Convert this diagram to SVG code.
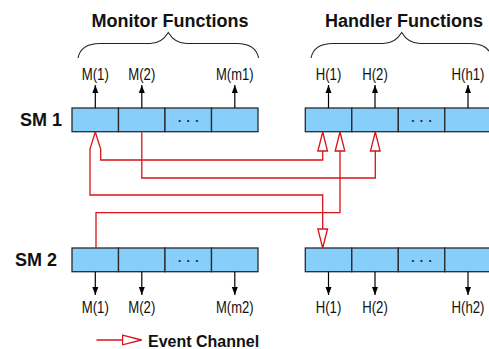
<svg xmlns="http://www.w3.org/2000/svg" width="489" height="349" viewBox="0 0 489 349">
<style>
.cell{fill:#87cefa;stroke:#2a2a2a;stroke-width:1.3}
.title{font-family:"Liberation Sans",Arial,sans-serif;font-weight:bold;font-size:18px;fill:#111}
.fn{font-family:"Liberation Sans Narrow","Liberation Sans",Arial,sans-serif;font-size:16px;fill:#111;text-anchor:middle}
.dots{font-family:"Liberation Sans",Arial,sans-serif;font-weight:bold;font-size:12px;word-spacing:2px;fill:#222;text-anchor:middle}
.brace{fill:none;stroke:#222;stroke-width:1.1}
.call{stroke:#000;stroke-width:1.2;fill:none;marker-end:url(#blk)}
.eva{stroke:#d81418;stroke-width:1.3;fill:none;marker-end:url(#open)}
</style>
<defs>
<marker id="blk" markerUnits="userSpaceOnUse" markerWidth="10" markerHeight="8" refX="8" refY="3.5" orient="auto" viewBox="0 0 10 8">
<path d="M0,0.5 L8,3.5 L0,6.5 Z" fill="#000"/>
</marker>
<marker id="open" markerUnits="userSpaceOnUse" markerWidth="22" markerHeight="12" refX="20" refY="6" orient="auto" viewBox="0 0 22 12">
<path d="M1,1.2 L20,6 L1,10.8 Z" fill="#fff" stroke="#d81418" stroke-width="1.3"/>
</marker>
</defs>
<rect width="489" height="349" fill="#fff"/>

<g id="headings">
<text class="title" x="170" y="27" text-anchor="middle">Monitor Functions</text>
<text class="title" x="404" y="27" text-anchor="middle">Handler Functions</text>
<path class="brace" d="M78,58 C80,48 88,43.5 100,43.5 L150,43.5 C160,43.5 165,38 168.3,32.5 C171.6,38 176.6,43.5 186.6,43.5 L236.6,43.5 C248.6,43.5 256.6,48 258.6,58"/>
<path class="brace" d="M311,58 C313,48 321,43.5 333,43.5 L383,43.5 C393,43.5 398.4,38 401.7,32.5 C405,38 410,43.5 420,43.5 L470,43.5 C482,43.5 490,48 492,58"/>
<text class="title" x="20" y="126">SM 1</text>
<text class="title" x="15" y="266">SM 2</text>
</g>

<g id="sm1-monitor">
<rect class="cell" x="72" y="108" width="46.5" height="23.7"/>
<rect class="cell" x="118.5" y="108" width="46.5" height="23.7"/>
<rect class="cell" x="165" y="108" width="46.5" height="23.7"/>
<rect class="cell" x="211.5" y="108" width="46.5" height="23.7"/>
<text class="dots" x="188.25" y="121.5">. . .</text>
</g>
<g id="sm1-handler">
<rect class="cell" x="305.3" y="108" width="46.5" height="23.7"/>
<rect class="cell" x="351.8" y="108" width="46.5" height="23.7"/>
<rect class="cell" x="398.3" y="108" width="46.5" height="23.7"/>
<rect class="cell" x="444.8" y="108" width="46.5" height="23.7"/>
<text class="dots" x="421.5" y="121.5">. . .</text>
</g>
<g id="sm2-monitor">
<rect class="cell" x="72" y="248" width="46.5" height="23.7"/>
<rect class="cell" x="118.5" y="248" width="46.5" height="23.7"/>
<rect class="cell" x="165" y="248" width="46.5" height="23.7"/>
<rect class="cell" x="211.5" y="248" width="46.5" height="23.7"/>
<text class="dots" x="188.25" y="261.5">. . .</text>
</g>
<g id="sm2-handler">
<rect class="cell" x="305.3" y="248" width="46.5" height="23.7"/>
<rect class="cell" x="351.8" y="248" width="46.5" height="23.7"/>
<rect class="cell" x="398.3" y="248" width="46.5" height="23.7"/>
<rect class="cell" x="444.8" y="248" width="46.5" height="23.7"/>
<text class="dots" x="421.5" y="261.5">. . .</text>
</g>

<g id="function-labels">
<text class="fn" x="95.3" y="80" textLength="27" lengthAdjust="spacingAndGlyphs">M(1)</text>
<text class="fn" x="141.8" y="80" textLength="27" lengthAdjust="spacingAndGlyphs">M(2)</text>
<text class="fn" x="234.8" y="80" textLength="37.5" lengthAdjust="spacingAndGlyphs">M(m1)</text>
<text class="fn" x="328.5" y="80" textLength="25.5" lengthAdjust="spacingAndGlyphs">H(1)</text>
<text class="fn" x="375" y="80" textLength="25.5" lengthAdjust="spacingAndGlyphs">H(2)</text>
<text class="fn" x="468" y="80" textLength="33" lengthAdjust="spacingAndGlyphs">H(h1)</text>
<text class="fn" x="95.3" y="312.5" textLength="27" lengthAdjust="spacingAndGlyphs">M(1)</text>
<text class="fn" x="141.8" y="312.5" textLength="27" lengthAdjust="spacingAndGlyphs">M(2)</text>
<text class="fn" x="234.8" y="312.5" textLength="37.5" lengthAdjust="spacingAndGlyphs">M(m2)</text>
<text class="fn" x="328.5" y="312.5" textLength="25.5" lengthAdjust="spacingAndGlyphs">H(1)</text>
<text class="fn" x="375" y="312.5" textLength="25.5" lengthAdjust="spacingAndGlyphs">H(2)</text>
<text class="fn" x="468" y="312.5" textLength="33" lengthAdjust="spacingAndGlyphs">H(h2)</text>
</g>

<g id="connectors">
<line class="call" x1="95.3" y1="108" x2="95.3" y2="85"/>
<line class="call" x1="141.8" y1="108" x2="141.8" y2="85"/>
<line class="call" x1="234.8" y1="108" x2="234.8" y2="85"/>
<line class="call" x1="328.5" y1="108" x2="328.5" y2="85"/>
<line class="call" x1="375" y1="108" x2="375" y2="85"/>
<line class="call" x1="468" y1="108" x2="468" y2="85"/>
<line class="call" x1="95.3" y1="271.7" x2="95.3" y2="295"/>
<line class="call" x1="141.8" y1="271.7" x2="141.8" y2="295"/>
<line class="call" x1="234.8" y1="271.7" x2="234.8" y2="295"/>
<line class="call" x1="328.5" y1="271.7" x2="328.5" y2="295"/>
<line class="call" x1="375" y1="271.7" x2="375" y2="295"/>
<line class="call" x1="468" y1="271.7" x2="468" y2="295"/>

<polyline class="eva" points="95.3,132 90,149 90,195 322.7,195 322.7,248"/>
<polyline class="eva" points="95.3,132 100.7,149 100.7,160 322.7,160 322.7,132"/>
<polyline class="eva" points="141.8,131.7 141.8,178 375.3,178 375.3,132"/>
<polyline class="eva" points="96,248 96,212.7 340,212.7 340,132"/>
</g>

<g id="legend">
<line class="eva" x1="96.5" y1="340" x2="141.5" y2="340"/>
<text class="title" x="148" y="346.5" style="font-size:16px">Event Channel</text>
</g>
</svg>
